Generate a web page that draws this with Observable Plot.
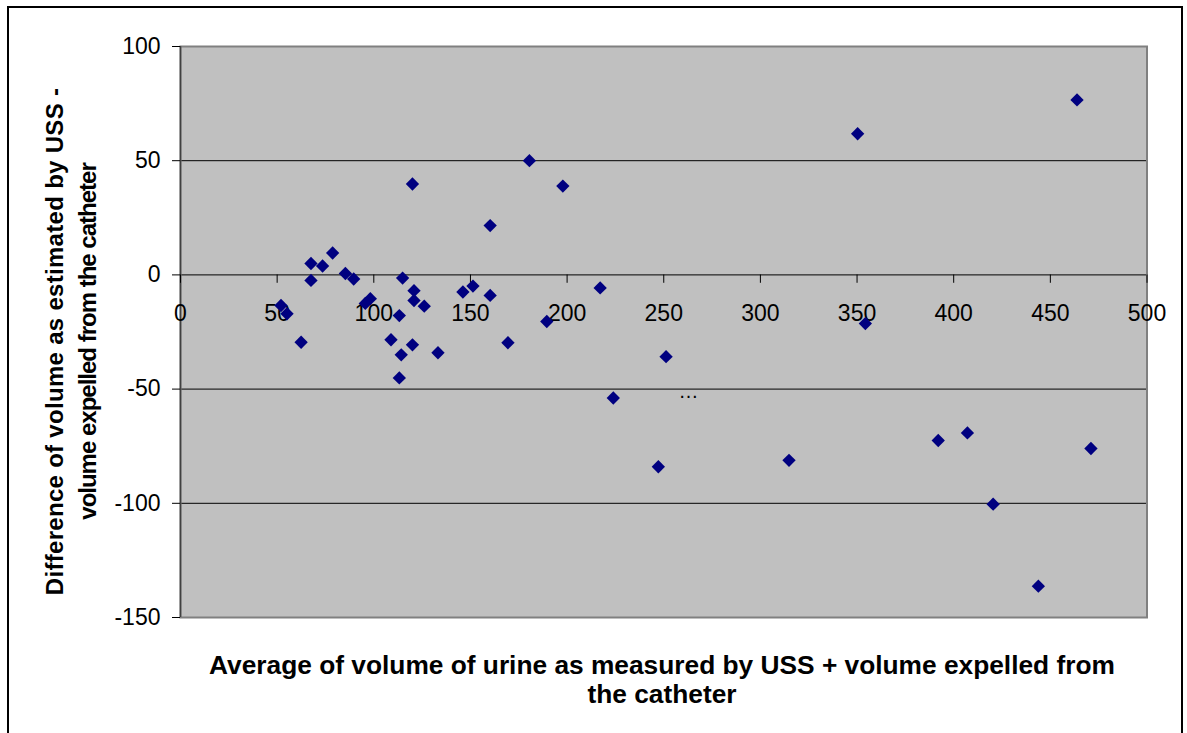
<!DOCTYPE html>
<html>
<head>
<meta charset="utf-8">
<script src="https://cdn.jsdelivr.net/npm/d3@7"></script>
<script src="https://cdn.jsdelivr.net/npm/@observablehq/plot@0.6"></script>
<style>
  html, body { margin: 0; padding: 0; background: #fff; overflow: hidden; }
  #wrap { position: relative; width: 1187px; height: 733px; }
  #border { position: absolute; left: 7px; top: 6px; width: 1176px; height: 760px; border: 2px solid #000; box-sizing: border-box; pointer-events: none; }
  #chart { position: absolute; left: 0; top: 0; }
</style>
</head>
<body>
<div id="wrap">
  <div id="chart"></div>
  <div id="border"></div>
</div>
<script>
// Average of volume (x) and difference of volume (y)
const avgVolume = [
  52.0, 55.1, 62.4, 67.5, 67.5, 73.5, 78.7, 85.3, 89.6, 98.2,
  95.6, 114.9, 120.8, 120.8, 126.1, 113.2, 108.9, 120.0, 114.2, 133.2,
  113.2, 120.0, 180.5, 197.8, 160.2, 146.1, 151.3, 160.2, 217.1, 189.5,
  169.4, 251.2, 223.9, 247.2, 463.8, 350.3, 354.3, 314.8, 392.0, 407.1,
  471.0, 420.4, 443.8
];
const diffVolume = [
  -13.4, -17.0, -29.5, 5.0, -2.4, 3.9, 9.6, 0.6, -1.8, -10.4,
  -12.5, -1.4, -6.9, -11.2, -13.7, -17.8, -28.4, -30.6, -35.0, -34.1,
  -45.1, 39.8, 50.0, 38.9, 21.6, -7.5, -4.9, -9.0, -5.7, -20.4,
  -29.7, -35.8, -53.9, -84.0, 76.6, 61.8, -21.3, -81.2, -72.5, -69.2,
  -76.0, -100.4, -136.3
];
const xTicks = [0, 50, 100, 150, 200, 250, 300, 350, 400, 450, 500];
const yTicks = [-150, -100, -50, 0, 50, 100];
const gridLines = [-100, -50, 0, 50, 100];
const xTitle = "Average of volume of urine as measured by USS + volume expelled from\nthe catheter";
const yTitle = "Difference of volume as estimated by USS -\nvolume expelled from the catheter";
const noteText = ["…"];
const noteX = [262.8];
const noteY = [-53.7];

const points = avgVolume.map((x, i) => ({x, y: diffVolume[i]}));
const notes = noteText.map((t, i) => ({t, x: noteX[i], y: noteY[i]}));

const tickShape = {
  draw(context, l) { context.moveTo(0, 0); context.lineTo(0, -l); }
};

const chart = Plot.plot({
  width: 1187,
  height: 733,
  marginLeft: 180,
  marginRight: 40.5,
  marginTop: 46,
  marginBottom: 116,
  style: { fontFamily: "'Liberation Sans', Arial, sans-serif", color: "#000", background: "transparent", overflow: "visible" },
  x: { domain: [0, 500], axis: null },
  y: { domain: [-150, 100], axis: null },
  marks: [
    Plot.frame({ fill: "#c0c0c0" }),
    Plot.ruleY(gridLines, { y: d => d, stroke: "#000", strokeWidth: 1 }),
    Plot.frame({ stroke: "#808080", strokeWidth: 2 }),
    Plot.ruleX([0], { x: d => d, stroke: "#404040", strokeWidth: 1.5 }),
    Plot.axisY(yTicks, { tickSize: 8, tickPadding: 12, fontSize: 23, label: null, tickFormat: d => String(d), stroke: "#000", fill: "#000" }),
    Plot.vector(xTicks, { x: d => d, y: 0, length: 7.5, anchor: "start", rotate: 180, shape: tickShape, stroke: "#000", strokeWidth: 1 }),
    Plot.text(xTicks, { x: d => d, y: 0, dy: 38.5, text: d => String(d), fontSize: 23, fill: "#000" }),
    Plot.dot(points, { x: "x", y: "y", symbol: "diamond2", r: 6, fill: "#000080", stroke: "none" }),
    Plot.text(notes, { x: "x", y: "y", text: "t", dy: -6, fontSize: 20, fill: "#000" }),
    Plot.text([xTitle], { frameAnchor: "bottom", textAnchor: "middle", lineAnchor: "middle", dx: -1.75, dy: 61.5, text: d => d, fontSize: 26.3, fontWeight: "bold", lineHeight: 1.13, fill: "#000" }),
    Plot.text([yTitle], { frameAnchor: "left", textAnchor: "middle", lineAnchor: "middle", dx: -112, dy: 9.5, rotate: -90, text: d => d, fontSize: 24, fontWeight: "bold", lineHeight: 1.38, fill: "#000" })
  ]
});
// The reference renders the two y-title lines with slightly different tracking
d3.select(chart).selectAll("text")
  .filter(function () { return this.textContent.startsWith("Difference"); })
  .selectAll("tspan")
  .each(function (d, i) {
    this.setAttribute("letter-spacing", i === 0 ? "0.3" : "-1");
    this.style.letterSpacing = i === 0 ? "0.3px" : "-1px";
  });
document.getElementById("chart").appendChild(chart);
</script>
</body>
</html>
